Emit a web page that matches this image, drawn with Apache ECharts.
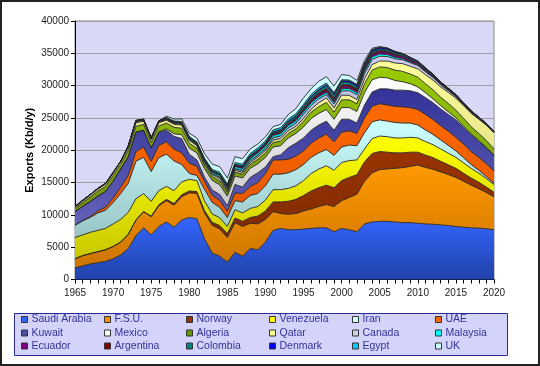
<!DOCTYPE html>
<html><head><meta charset="utf-8">
<script src="https://cdn.jsdelivr.net/npm/echarts@6/dist/echarts.min.js"></script>
<style>html,body{margin:0;padding:0;background:#fff}#c{width:540px;height:366px}</style>
</head><body><div id="c"></div>
<script>
const years = ['1965','1966','1967','1968','1969','1970','1971','1972','1973','1974','1975','1976','1977','1978','1979','1980','1981','1982','1983','1984','1985','1986','1987','1988','1989','1990','1991','1992','1993','1994','1995','1996','1997','1998','1999','2000','2001','2002','2003','2004','2005','2006','2007','2008','2009','2010','2011','2012','2013','2014','2015','2016','2017','2018','2019','2020'];

const saudiArabia = [1800,2100,2400,2600,2800,3200,3800,4800,6800,8000, 6900,8200,8900,8100,9200,9600,9400,6300,4100,3600, 2700,4200,3600,4800,4600,5800,7600,7900,7700,7700, 7800,7900,8000,8000,7400,7900,7700,7400,8600,8900, 9000,9000,8900,8800,8800,8700,8600,8550,8450,8350, 8200,8100,8000,7950,7850,7700];
const fsu = [1400,1600,1600,1700,1800,1900,2000,2200,2400,2500, 2800,3200,3300,3400,3600,3800,3900,4000,4300,4200, 3800,4600,4600,3900,4000,3500,2900,2300,2400,2500, 2800,3000,3300,3600,3900,4300,5000,5800,6600,7600, 8000,8100,8300,8500,8700,9000,8750,8500,8200,7900, 7600,7100,6600,6100,5600,5100];
const norway = [0,0,0,0,0,0,0,0,0,0, 100,150,200,250,300,300,300,350,450,550, 600,700,800,900,1200,1300,1500,1800,2000,2200, 2400,2800,2900,3000,2900,3100,3100,3000,3000,3000, 2800,2600,2400,2300,2200,2000,1900,1800,1650,1500, 1400,1250,1100,1000,850,700];
const venezuela = [3300,3200,3300,3300,3300,3500,3500,3400,3300,2800, 2300,2200,2000,2000,2000,1800,1700,1500,1300,1200, 1100,1300,1300,1400,1500,1700,1900,1900,2000,2100, 2300,2700,2900,3000,2700,2800,2600,2300,2000,2300, 2400,2400,2300,2300,2300,2200,2100,2000,1900,1800, 1700,1600,1500,1400,1300,1200];
const iran = [1900,2200,2300,2700,2800,3300,4000,4500,5800,5600, 4600,5100,5000,4600,2700,900,800,1800,1800,1600, 1400,1400,1700,2000,2000,2200,2400,2400,2400,2500, 2500,2500,2500,2500,2300,2400,2400,2200,2500,2600, 2500,2400,2400,2300,2200,2000,1800,1600,1400,1200, 1000,800,600,450,300,200];
const uae = [0,0,150,300,500,700,1000,1200,1500,1600, 1600,1900,1900,1800,1800,1600,1400,1200,1100,1100, 1000,1200,1300,1400,1700,1900,2200,2200,2100,2100, 2100,2200,2300,2400,2100,2300,2200,1900,2300,2400, 2500,2500,2500,2500,2400,2400,2400,2300,2200,2200, 2100,2100,2000,2000,2000,1900];
const kuwait = [2100,2200,2300,2300,2400,2600,2800,2900,3000,2600, 2000,2000,1800,2000,2200,1400,1000,700,800,900, 800,1300,1000,1400,1500,1000,500,800,1800,2000, 2000,2000,2000,2000,1800,2000,1800,1600,2000,2200, 2300,2500,2500,2600,2600,2600,2600,2600,2600,2600, 2700,2600,2600,2500,2450,2400];
const mexico = [0,0,0,0,0,0,0,0,0,0, 100,100,200,400,600,900,1100,1300,1500,1500, 1500,1300,1400,1400,1400,1500,1500,1400,1500,1500, 1700,1800,1800,1800,1700,1800,1800,1800,1900,1900, 1800,1700,1500,1300,1100,900,750,600,500,400, 300,200,150,100,50,0];
const algeria = [500,600,700,800,800,900,700,1000,900,900, 800,900,900,1000,1000,800,700,600,600,600, 600,600,600,600,700,700,700,700,700,700, 900,1000,1050,1100,1100,1200,1200,1200,1400,1500, 1600,1600,1600,1600,1500,1500,1400,1400,1300,1300, 1200,1200,1100,1100,1100,1000];
const qatar = [200,250,300,300,350,350,400,450,550,500, 450,500,450,480,500,450,400,320,280,380, 280,300,280,300,350,380,380,400,400,400, 420,450,600,700,650,720,700,650,750,850, 900,1000,1100,1200,1200,1300,1400,1500,1600,1700, 1850,1950,2050,2200,2350,2500];
const canada = [100,100,100,100,100,100,100,150,200,150, 100,100,100,100,100,100,100,100,150,200, 200,250,250,300,250,300,350,400,450,500, 650,600,600,500,600,650,700,750,800,800, 750,700,650,600,550,500,450,400,350,300, 250,200,200,150,150,100];
const malaysia = [0,0,0,0,0,0,0,0,0,0, 0,50,80,100,150,150,150,200,250,300, 300,350,350,350,400,400,400,400,400,400, 400,400,350,350,300,350,350,350,400,400, 350,300,250,200,150,120,100,80,50,30, 20,0,0,0,0,0];
const ecuador = [0,0,0,0,0,0,0,100,150,150, 150,150,150,150,150,150,150,150,150,150, 150,200,200,200,200,200,200,200,220,230, 250,270,280,300,300,300,300,300,350,350, 350,350,320,300,280,250,220,200,180,160, 150,130,110,90,70,50];
const argentina = [0,0,0,0,0,0,0,0,0,0, 0,0,0,0,0,0,0,0,0,0, 0,0,10,20,30,50,70,90,120,150, 200,250,280,300,300,300,280,250,250,220, 200,180,150,100,70,30,20,0,0,0, 0,0,0,0,0,0];
const colombia = [0,0,0,0,0,0,0,0,0,0, 0,0,0,0,0,0,0,0,20,30, 50,100,150,200,200,200,200,250,270,280, 300,350,400,450,500,450,400,350,300,270, 250,250,220,200,200,200,180,170,160,150, 140,120,100,80,60,50];
const denmark = [0,0,0,0,0,0,0,0,0,0, 0,0,0,0,0,0,0,0,0,0, 0,0,10,30,40,50,60,70,80,90, 100,120,130,150,180,200,220,250,250,230, 200,200,180,150,120,100,80,50,30,10, 0,0,0,0,0,0];
const egypt = [0,0,0,0,0,0,0,0,0,0, 0,0,100,150,150,200,200,250,250,300, 300,300,300,300,300,300,300,300,300,300, 300,300,280,250,200,150,120,100,80,60, 50,30,10,0,0,0,0,0,0,0, 0,0,0,0,0,0];
const uk = [0,0,0,0,0,0,0,0,0,0, 0,0,200,300,400,500,600,700,800,850, 900,900,850,700,600,600,500,500,700,800, 1000,900,1000,1000,1000,800,700,600,400,200, 100,0,0,0,0,0,0,0,0,0, 0,0,0,0,0,0];

const yTicks = [0,5000,10000,15000,20000,25000,30000,35000,40000];

const seriesDefs = [
  ['Saudi Arabia', saudiArabia, '#3366FF', '#3366FF', '#2142A8'],
  ['F.S.U.', fsu, '#FF8C00', '#FF9900', '#CC7400'],
  ['Norway', norway, '#993300', '#993300', '#7A2800'],
  ['Venezuela', venezuela, '#FFFF00', '#FFFF00', '#C8C800'],
  ['Iran', iran, '#CCFFFF', '#CCFFFF', '#98C4C4'],
  ['UAE', uae, '#FF6600', '#FF6A00', '#E05400'],
  ['Kuwait', kuwait, '#4F4F9F', '#333399', '#6262B8'],
  ['Mexico', mexico, '#FFFFFF', '#FFFFFF', '#C8C8C8'],
  ['Algeria', algeria, '#669900', '#99CC00', '#708F10'],
  ['Qatar', qatar, '#FFFF99', '#FFFF99', '#D4D480'],
  ['Canada', canada, '#D0D0E0', '#CCCCEE', '#A0A0C0'],
  ['Malaysia', malaysia, '#00FFFF', '#00FFFF', '#00B8B8'],
  ['Ecuador', ecuador, '#800080', '#800080', '#800080'],
  ['Argentina', argentina, '#800000', '#800000', '#800000'],
  ['Colombia', colombia, '#008080', '#008080', '#008080'],
  ['Denmark', denmark, '#0000FF', '#0000FF', '#0000FF'],
  ['Egypt', egypt, '#00CCFF', '#00CCFF', '#00CCFF'],
  ['UK', uk, '#CCFFFF', '#CCFFFF', '#CCFFFF']
];

const FONT = 'Liberation Sans, Arial, sans-serif';
const chart = echarts.init(document.getElementById('c'), null, {renderer: 'canvas'});

const colX = [21, 104, 186, 269, 352, 435];
const rowTop = [314, 327.5, 340.5];

const legends = seriesDefs.map((d, i) => ({
  data: [d[0]],
  left: colX[i % 6],
  top: rowTop[Math.floor(i / 6)],
  orient: 'horizontal',
  icon: 'rect',
  itemWidth: 6,
  itemHeight: 6,
  itemGap: 0,
  padding: 0,
  selectedMode: false,
  z: 10,
  itemStyle: {borderColor: '#333', borderWidth: 1},
  textStyle: {fontFamily: FONT, fontSize: 10.5, color: '#333399', padding: [0, 0, 0, -1]}
}));

const series = seriesDefs.map(d => ({
  name: d[0],
  type: 'line',
  stack: 'total',
  data: d[1],
  symbol: 'none',
  smooth: false,
  itemStyle: {color: d[2]},
  lineStyle: {color: '#262626', width: 0.9},
  areaStyle: {
    opacity: 1,
    color: new echarts.graphic.LinearGradient(0, 0, 0, 1, [
      {offset: 0, color: d[3]}, {offset: 1, color: d[4]}
    ])
  },
  emphasis: {disabled: true},
  silent: true
}));

chart.setOption({
  animation: false,
  backgroundColor: '#ffffff',
  graphic: [
    {type: 'rect', shape: {x: 1, y: 1, width: 538, height: 364}, style: {fill: 'none', stroke: '#222', lineWidth: 2}, z: 0},
    {type: 'rect', shape: {x: 14.5, y: 313.5, width: 493, height: 42}, style: {fill: '#D4D4FB', stroke: '#2B2B9A', lineWidth: 1}, z: 0}
  ],
  grid: {left: 75, right: 46, top: 21, bottom: 86.5, show: true, backgroundColor: '#D9D9F7', borderColor: '#8A8A8A', borderWidth: 1},
  legend: legends,
  xAxis: {
    type: 'category',
    data: years,
    boundaryGap: false,
    axisLine: {lineStyle: {color: '#000', width: 1}},
    axisTick: {show: true, interval: 0, length: 4, lineStyle: {color: '#000'}},
    axisLabel: {interval: 4, fontFamily: FONT, fontSize: 10, color: '#222', margin: 9},
    splitLine: {show: false}
  },
  yAxis: {
    type: 'value',
    min: yTicks[0],
    max: yTicks[yTicks.length - 1],
    interval: 5000,
    name: 'Exports (Kb/d/y)',
    nameLocation: 'middle',
    nameGap: 40,
    nameMoveOverlap: false,
    nameRotate: 90,
    nameTextStyle: {fontFamily: FONT, fontSize: 11, fontWeight: 'bold', color: '#000'},
    axisLine: {show: true, lineStyle: {color: '#000', width: 1}},
    axisTick: {show: true, length: 4, lineStyle: {color: '#000'}},
    axisLabel: {fontFamily: FONT, fontSize: 10, color: '#222', margin: 6, formatter: v => String(v)},
    splitLine: {lineStyle: {color: '#A0A0A0', width: 1}}
  },
  series: series
});
</script>
</body></html>
